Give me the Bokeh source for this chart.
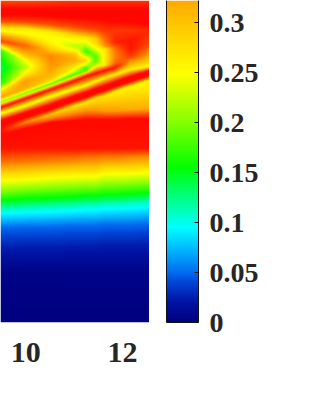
import numpy as np
from bokeh.embed import file_html
from bokeh.layouts import row
from bokeh.models import FixedTicker, LinearAxis, LinearColorMapper, Range1d
from bokeh.plotting import figure
from bokeh.resources import INLINE

# --- colour bar and tick labels ---
CB_TICKS = [0, 0.05, 0.1, 0.15, 0.2, 0.25, 0.3]
CB_LABELS = {0: "0", 0.05: "0.05", 0.1: "0.1", 0.15: "0.15", 0.2: "0.2", 0.25: "0.25", 0.3: "0.3"}
CB_TOP = 0.3225
X_TICKS = [10, 12]
X_RANGE = (9.48, 12.56)
STOP_V = [0, .02, .04, .05, .075, .095, .125, .155, .2, .25, .3225, .467]
STOP_R = [0, 0, 0, 0, 0, 0, 0, 0, 130, 255, 255, 255]
STOP_G = [0, 20, 70, 110, 190, 255, 255, 255, 255, 255, 170, 0]
STOP_B = [128, 165, 215, 240, 255, 255, 130, 0, 0, 0, 0, 0]

# --- surface: per column, depth and level of each band ---
COLS = [0, 25, 50, 75, 85, 95, 105, 115, 130, 149]
BAND_TOP_Y = [0, 0, 0, 0, 0, 0, 0, 0, 0, 0]
BAND_TOP_V = [.40, .40, .41, .42, .42, .42, .42, .42, .42, .42]
BAND_RED1_Y = [8, 8, 8, 8, 8, 8, 8, 8, 8, 8]
BAND_RED1_V = [.46, .46, .46, .46, .46, .46, .46, .46, .46, .46]
BAND_RED2_Y = [15, 15, 16, 18, 18, 19, 20, 21, 22, 24]
BAND_RED2_V = [.46, .46, .46, .46, .46, .46, .46, .46, .46, .46]
BAND_FRINGE_Y = [21, 22, 24, 27, 28, 29, 30, 30, 30, 30]
BAND_FRINGE_V = [.40, .40, .40, .40, .41, .41, .42, .42, .42, .43]
BAND_CREST_Y = [27, 28, 31, 36, 37, 38, 41, 42, 40, 33]
BAND_CREST_V = [.28, .27, .27, .27, .27, .29, .37, .44, .45, .43]
BAND_OUT_Y = [30, 33, 37, 41, 39, 42, 46, 44, 42, 35]
BAND_OUT_V = [.25, .25, .25, .25, .26, .28, .34, .42, .45, .42]
BAND_EDGE_Y = [35, 38, 43, 46, 44, 46, 48, 47, 48, 42]
BAND_EDGE_V = [.33, .30, .26, .22, .23, .26, .28, .39, .45, .41]
BAND_INNER_Y = [41, 45, 50, 50, 48, 50, 50, 50, 51, 48]
BAND_INNER_V = [.41, .38, .30, .25, .19, .23, .27, .37, .44, .38]
BLOB_TOP_Y = [45, 54, 55, 54, 51, 53, 53, 53, 53, 50]
BLOB_TOP_V = [.27, .31, .35, .30, .17, .20, .27, .36, .43, .36]
BLOB_GRN_Y = [50, 60, 59, 58, 54, 56, 56, 55, 54, 52]
BLOB_GRN_V = [.17, .25, .35, .32, .22, .18, .27, .36, .43, .35]
BLOB_MID_Y = [68, 66, 64, 61, 60, 59, 58, 58, 55, 55]
BLOB_MID_V = [.135, .22, .34, .31, .29, .18, .27, .36, .42, .33]
BLOB_GRB_Y = [84, 72, 69, 65, 65, 62, 61, 60, 56, 56]
BLOB_GRB_V = [.17, .25, .33, .28, .23, .19, .27, .37, .41, .32]
BLOB_BOT_Y = [91, 80, 76, 69, 67, 64, 63, 62, 57, 58]
BLOB_BOT_V = [.27, .33, .31, .24, .18, .22, .27, .38, .40, .30]
ARM_IN_Y = [97, 88, 80, 71, 69, 66, 65, 63, 58, 60]
ARM_IN_V = [.33, .32, .28, .22, .17, .26, .28, .39, .38, .29]
ARM_GRN_Y = [102, 93, 84, 74, 71, 68, 67, 65, 59, 61]
ARM_GRN_V = [.20, .19, .18, .17, .20, .30, .36, .42, .36, .28]
THIN_RED_Y = [107, 98, 89, 80, 76, 73, 70, 67, 60, 62]
THIN_RED_V = [.46, .46, .46, .46, .46, .46, .46, .45, .35, .28]
THIN_YEL_Y = [113, 105, 96, 88, 85, 81, 77, 74, 69, 66]
THIN_YEL_V = [.24, .24, .24, .24, .25, .25, .26, .26, .26, .25]
STRIPE_A_Y = [120, 112, 104, 95, 92, 88, 85, 81, 76, 70]
STRIPE_A_V = [.46, .46, .46, .46, .46, .46, .46, .46, .46, .46]
STRIPE_B_Y = [126, 117, 109, 100, 97, 93, 90, 86, 81, 75]
STRIPE_B_V = [.46, .46, .46, .46, .46, .46, .46, .46, .46, .46]
UNDER_Y = [131, 122, 114, 105, 102, 98, 95, 91, 86, 80]
UNDER_V = [.46, .35, .30, .27, .27, .27, .27, .26, .26, .25]
SHELF_Y = [133, 124, 118, 112, 110, 110, 110, 110, 109, 108]
SHELF_V = [.46, .40, .36, .34, .34, .34, .33, .33, .32, .32]
FLOOR_Y = [135, 128, 122, 120, 119, 119, 119, 119, 118, 118]
FLOOR_V = [.46, .46, .46, .46, .46, .46, .46, .46, .46, .46]
LOW1_Y = [148, 148, 148, 148, 148, 148, 148, 148, 148, 148]
LOW1_V = [.45, .45, .45, .45, .45, .45, .45, .45, .45, .45]
LOW2_Y = [160, 160, 160, 159, 159, 159, 158, 158, 158, 157]
LOW2_V = [.38, .37, .36, .36, .35, .35, .35, .35, .34, .34]
LOW3_Y = [172, 171, 171, 170, 170, 170, 169, 169, 169, 168]
LOW3_V = [.29, .29, .28, .28, .28, .28, .27, .27, .27, .27]
LOW4_Y = [198, 196, 195, 194, 193, 193, 192, 192, 191, 190]
LOW4_V = [.165, .165, .165, .165, .165, .165, .165, .165, .165, .165]
LOW5_Y = [210, 209, 208, 207, 206, 206, 205, 205, 204, 203]
LOW5_V = [.105, .105, .105, .105, .105, .105, .105, .105, .105, .105]
LOW6_Y = [227, 226, 226, 225, 225, 225, 224, 224, 224, 223]
LOW6_V = [.05, .05, .05, .05, .05, .05, .05, .05, .05, .05]
LOW7_Y = [247, 246, 246, 245, 245, 245, 244, 244, 244, 243]
LOW7_V = [.025, .025, .025, .025, .025, .025, .025, .025, .025, .025]
LOW8_Y = [272, 272, 272, 272, 272, 272, 272, 272, 272, 272]
LOW8_V = [.004, .004, .004, .004, .004, .004, .004, .004, .004, .004]
BASE_Y = [322, 322, 322, 322, 322, 322, 322, 322, 322, 322]
BASE_V = [0, 0, 0, 0, 0, 0, 0, 0, 0, 0]

BANDS = [
    (BAND_TOP_Y, BAND_TOP_V), (BAND_RED1_Y, BAND_RED1_V), (BAND_RED2_Y, BAND_RED2_V),
    (BAND_FRINGE_Y, BAND_FRINGE_V), (BAND_CREST_Y, BAND_CREST_V), (BAND_OUT_Y, BAND_OUT_V),
    (BAND_EDGE_Y, BAND_EDGE_V), (BAND_INNER_Y, BAND_INNER_V), (BLOB_TOP_Y, BLOB_TOP_V),
    (BLOB_GRN_Y, BLOB_GRN_V), (BLOB_MID_Y, BLOB_MID_V), (BLOB_GRB_Y, BLOB_GRB_V),
    (BLOB_BOT_Y, BLOB_BOT_V), (ARM_IN_Y, ARM_IN_V), (ARM_GRN_Y, ARM_GRN_V),
    (THIN_RED_Y, THIN_RED_V), (THIN_YEL_Y, THIN_YEL_V), (STRIPE_A_Y, STRIPE_A_V),
    (STRIPE_B_Y, STRIPE_B_V), (UNDER_Y, UNDER_V), (SHELF_Y, SHELF_V), (FLOOR_Y, FLOOR_V),
    (LOW1_Y, LOW1_V), (LOW2_Y, LOW2_V), (LOW3_Y, LOW3_V), (LOW4_Y, LOW4_V),
    (LOW5_Y, LOW5_V), (LOW6_Y, LOW6_V), (LOW7_Y, LOW7_V), (LOW8_Y, LOW8_V), (BASE_Y, BASE_V),
]

W, H = 149, 322
FONT = "Liberation Serif"
INK = "#262626"

px = np.arange(W) + 0.5
rows = np.arange(H) + 0.5
field = np.zeros((H, W))
for i, xp in enumerate(px):
    ys = np.array([np.interp(xp, COLS, b[0]) for b in BANDS])
    vs = np.array([np.interp(xp, COLS, b[1]) for b in BANDS])
    ys = np.maximum.accumulate(ys + np.arange(len(ys)) * 1e-6)
    field[:, i] = np.interp(rows, ys, vs)

palette = []
for t in np.linspace(0, STOP_V[-1], 600):
    r, g, b = (int(round(np.interp(t, STOP_V, c))) for c in (STOP_R, STOP_G, STOP_B))
    palette.append(f"#{r:02x}{g:02x}{b:02x}")
mapper = LinearColorMapper(palette=palette, low=0, high=STOP_V[-1])

p = figure(frame_width=W, frame_height=H, x_range=Range1d(*X_RANGE), y_range=Range1d(0, H),
           toolbar_location=None, output_backend="svg", min_border=0, min_border_bottom=98,
           outline_line_color=None, y_axis_location=None)
p.grid.visible = False
p.image(image=[field[::-1]], x=X_RANGE[0], y=0, dw=X_RANGE[1] - X_RANGE[0], dh=H, color_mapper=mapper)
ax = p.xaxis[0]
ax.ticker = FixedTicker(ticks=X_TICKS)
ax.axis_line_color = None
ax.major_tick_line_color = None
ax.minor_tick_line_color = None
ax.major_label_standoff = 14
ax.major_label_text_font = FONT
ax.major_label_text_font_style = "bold"
ax.major_label_text_font_size = "30px"
ax.major_label_text_color = INK

c = figure(frame_width=32, frame_height=H, x_range=Range1d(0, 1), y_range=Range1d(0, CB_TOP),
           toolbar_location=None, output_backend="svg", min_border=0, min_border_bottom=98,
           outline_line_color=None, x_axis_location=None, y_axis_location=None, margin=(0, 0, 0, 17))
c.grid.visible = False
bar = np.linspace(0, CB_TOP, H).reshape(-1, 1)
c.image(image=[bar], x=0, y=0, dw=1, dh=CB_TOP, color_mapper=mapper)
right = LinearAxis(ticker=FixedTicker(ticks=CB_TICKS), major_label_overrides=CB_LABELS,
                   axis_line_color="#111111", major_tick_line_color="#111111",
                   major_tick_in=4, major_tick_out=0, minor_tick_line_color=None,
                   major_label_standoff=11, major_label_text_font=FONT,
                   major_label_text_font_style="bold", major_label_text_font_size="28px",
                   major_label_text_color=INK)
c.add_layout(right, "right")
left = LinearAxis(ticker=FixedTicker(ticks=[]), axis_line_color="#111111", minor_tick_line_color=None,
                  major_tick_line_color=None)
c.add_layout(left, "left")
bottom = LinearAxis(ticker=FixedTicker(ticks=[]), axis_line_color="#111111", minor_tick_line_color=None,
                    major_tick_line_color=None)
c.add_layout(bottom, "below")

page = row(p, c)
open("out.html", "w").write(file_html(page, INLINE))
